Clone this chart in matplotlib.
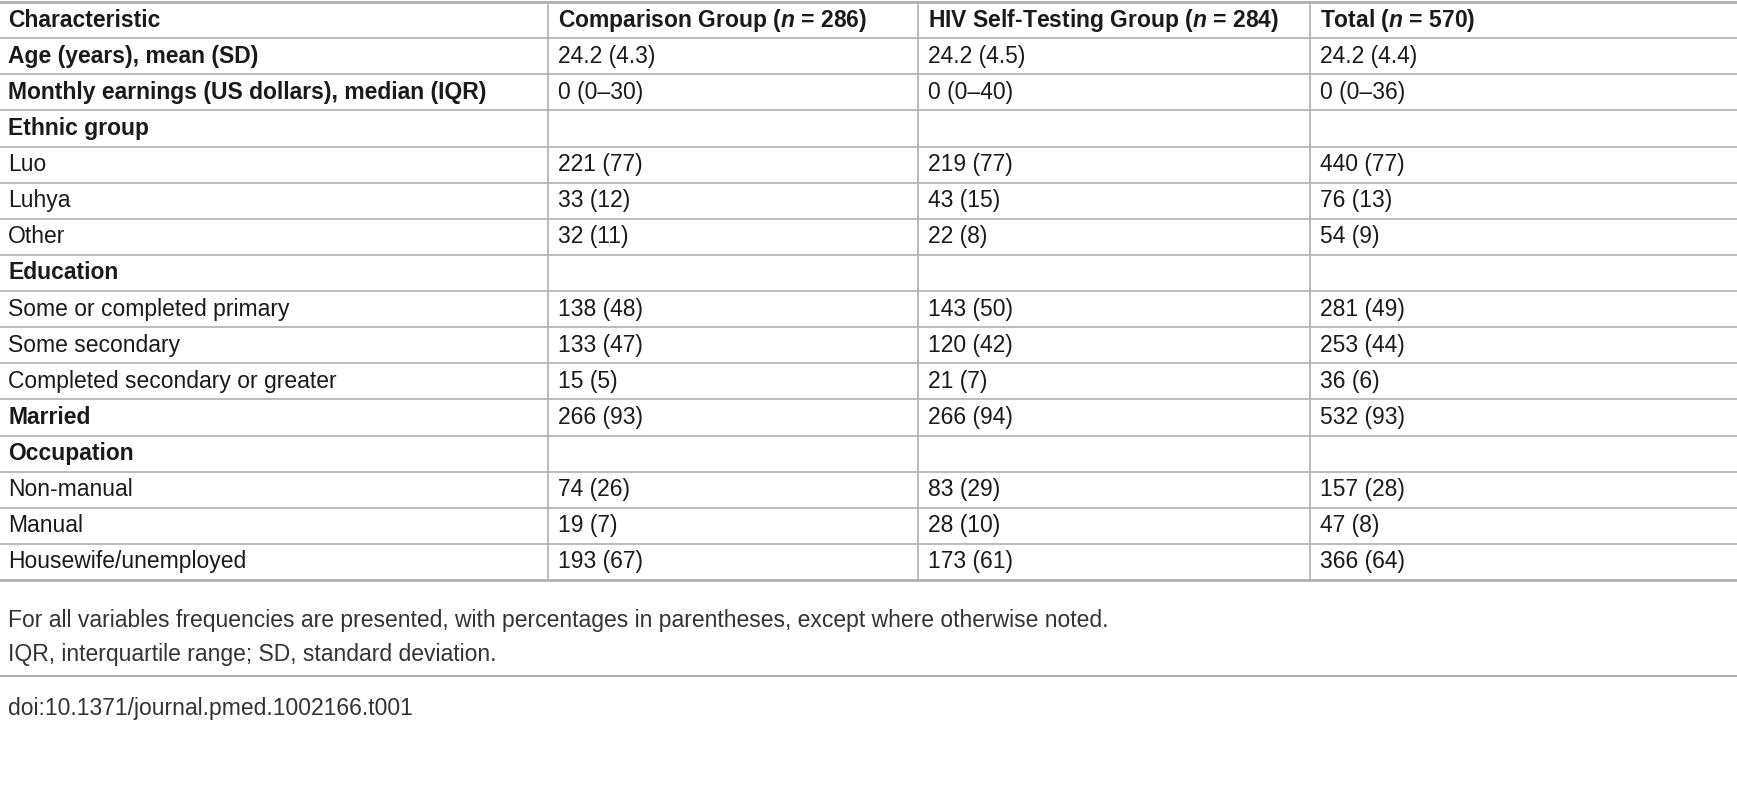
import matplotlib.pyplot as plt

# table contents
headers = ["Characteristic", "Comparison Group ($\\mathbf{\\it{n}}$ = 286)",
           "HIV Self-Testing Group ($\\mathbf{\\it{n}}$ = 284)", "Total ($\\mathbf{\\it{n}}$ = 570)"]
row_labels = ["Age (years), mean (SD)", "Monthly earnings (US dollars), median (IQR)",
              "Ethnic group", "Luo", "Luhya", "Other", "Education",
              "Some or completed primary", "Some secondary", "Completed secondary or greater",
              "Married", "Occupation", "Non-manual", "Manual", "Housewife/unemployed"]
bold_rows = [True, True, True, False, False, False, True, False, False, False,
             True, True, False, False, False]
comparison = ["24.2 (4.3)", "0 (0\u201330)", "", "221 (77)", "33 (12)", "32 (11)", "",
              "138 (48)", "133 (47)", "15 (5)", "266 (93)", "", "74 (26)", "19 (7)", "193 (67)"]
selftest = ["24.2 (4.5)", "0 (0\u201340)", "", "219 (77)", "43 (15)", "22 (8)", "",
            "143 (50)", "120 (42)", "21 (7)", "266 (94)", "", "83 (29)", "28 (10)", "173 (61)"]
total = ["24.2 (4.4)", "0 (0\u201336)", "", "440 (77)", "76 (13)", "54 (9)", "",
         "281 (49)", "253 (44)", "36 (6)", "532 (93)", "", "157 (28)", "47 (8)", "366 (64)"]
notes = ["For all variables frequencies are presented, with percentages in parentheses, except where otherwise noted.",
         "IQR, interquartile range; SD, standard deviation."]
doi = "doi:10.1371/journal.pmed.1002166.t001"

plt.rcParams['font.family'] = ['Liberation Sans', 'DejaVu Sans']
plt.rcParams['mathtext.fontset'] = 'custom'
plt.rcParams['mathtext.it'] = 'Liberation Sans:italic:bold'
plt.rcParams['mathtext.bf'] = 'Liberation Sans:bold'
plt.rcParams['mathtext.rm'] = 'Liberation Sans:bold'

W, H = 1737, 800
fig = plt.figure(figsize=(W / 100, H / 100), dpi=100)
ax = fig.add_axes([0, 0, 1, 1])
ax.set_xlim(0, W)
ax.set_ylim(H, 0)
ax.axis('off')

col_x = [8, 558, 928, 1320]
sep_x = [548, 918, 1310]
top, bottom = 2, 580
n_rows = len(row_labels) + 1
rh = (bottom - top) / n_rows
fs = 16.5
line_c = '#b0b0b0'
txt_c = '#1a1a1a'

for i in range(n_rows + 1):
    y = top + i * rh
    lw = 2 if i in (0, n_rows) else 1.2
    ax.plot([0, W], [y, y], color=line_c, lw=lw)
for x in sep_x:
    ax.plot([x, x], [top, bottom], color=line_c, lw=1.2)

for j, h in enumerate(headers):
    ax.text(col_x[j], top + rh / 2, h, fontsize=fs, fontweight='bold', va='center', color=txt_c)

for i, lab in enumerate(row_labels):
    y = top + (i + 1.5) * rh
    ax.text(col_x[0], y, lab, fontsize=fs, va='center', color=txt_c,
            fontweight='bold' if bold_rows[i] else 'normal')
    for j, vals in enumerate([comparison, selftest, total]):
        ax.text(col_x[j + 1], y, vals[i], fontsize=fs, va='center', color=txt_c)

ax.text(8, 620, notes[0], fontsize=fs, va='center', color='#333333')
ax.text(8, 655, notes[1], fontsize=fs, va='center', color='#333333')
ax.plot([0, W], [676, 676], color=line_c, lw=1.5)
ax.text(8, 708, doi, fontsize=fs, va='center', color='#333333')

fig.savefig('out.png', dpi=100)
